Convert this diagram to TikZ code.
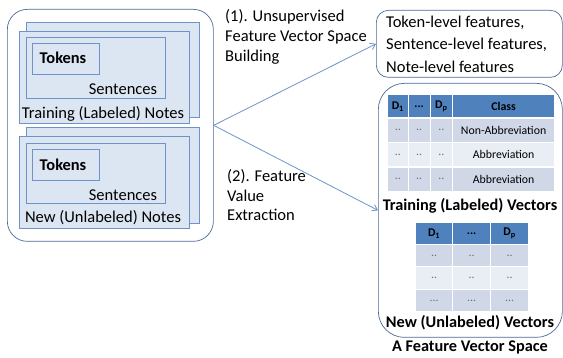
\documentclass[tikz,border=0pt]{standalone}
\usepackage{fontspec}
\setmainfont{Carlito}
\usetikzlibrary{arrows.meta}
\definecolor{paneblue}{HTML}{DCE6F2}
\definecolor{paneedge}{HTML}{6F93C8}
\definecolor{frameedge}{HTML}{4C6A96}
\definecolor{headblue}{HTML}{4F81BD}
\definecolor{rowdark}{HTML}{D0D8E8}
\definecolor{rowlight}{HTML}{E9EDF4}
\definecolor{arrowblue}{HTML}{6E94C8}
\definecolor{dotgray}{HTML}{707070}
\tikzset{
  frame/.style={draw=frameedge, line width=0.7pt, rounded corners=#1, inner sep=0pt, anchor=north west},
  pane/.style={draw=paneedge, fill=paneblue, line width=0.8pt, inner sep=0pt, anchor=north west},
  txt/.style={inner sep=0pt, font=\fontsize{16.5}{18}\selectfont},
  btxt/.style={inner sep=0pt, font=\fontsize{16.4}{18}\selectfont\bfseries},
  ttl/.style={inner sep=0pt, font=\fontsize{16.3}{18}\selectfont\bfseries},
  cell/.style={draw=white, line width=1.2pt, inner sep=0pt, anchor=north west,
    font=\fontsize{11.8}{13}\selectfont},
  head/.style={cell, fill=headblue, font=\fontsize{11.8}{13}\selectfont\bfseries},
  dark/.style={cell, fill=rowdark},
  light/.style={cell, fill=rowlight},
  flow/.style={draw=arrowblue, line width=0.8pt, -{Straight Barb[length=5pt,width=7pt]}},
}
\newcommand{\dd}{\textcolor{dotgray}{..}}
\newcommand{\ddd}{\textcolor{dotgray}{...}}
\begin{document}
\begin{tikzpicture}[x=1pt,y=-1pt]
\useasboundingbox (0,0) rectangle (563,358);

% ---- left container with the two note stacks ----
\node[frame=20pt, minimum width=206pt, minimum height=232pt] (notes) at (7,9) {};

% training notes stack
\node[pane, minimum width=173pt, minimum height=95pt] (trainback) at (26,22) {};
\node[pane, minimum width=170pt, minimum height=92pt] (trainfront) at (19,31) {};
\node[pane, minimum width=139pt, minimum height=61pt] (trainsent) at (26,37) {};
\node[pane, minimum width=67pt, minimum height=31pt] (traintok) at (32,43) {};
\node[btxt] (traintoklbl) at (63,58) {Tokens};
\node[txt] (trainsentlbl) at (123,89) {Sentences};
\node[txt] (trainlbl) at (103,114) {Training (Labeled) Notes};

% new notes stack
\node[pane, minimum width=173pt, minimum height=96pt] (newback) at (26,127) {};
\node[pane, minimum width=170pt, minimum height=92pt] (newfront) at (19,136) {};
\node[pane, minimum width=139pt, minimum height=60pt] (newsent) at (26,143) {};
\node[pane, minimum width=67pt, minimum height=31pt] (newtok) at (32,149) {};
\node[btxt] (newtoklbl) at (63,165) {Tokens};
\node[txt] (newsentlbl) at (123,195) {Sentences};
\node[txt] (newlbl) at (103,218) {New (Unlabeled) Notes};

% ---- feature list box ----
\node[frame=12pt, minimum width=186pt, minimum height=67pt] (feats) at (376,10) {};
\node[txt, anchor=west] (f1) at (386,23) {Token-level features,};
\node[txt, anchor=west] (f2) at (386,45) {Sentence-level features,};
\node[txt, anchor=west] (f3) at (386,67) {Note-level features};

% ---- feature vector space container ----
\node[frame=26pt, minimum width=184pt, minimum height=254pt] (space) at (378,83) {};

% training vectors table
\node[head, minimum width=20.5pt, minimum height=23.5pt] (th1) at (387,94) {D\textsubscript{1}};
\node[head, minimum width=22pt, minimum height=23.5pt] (th2) at (407.5,94) {...};
\node[head, minimum width=22.5pt, minimum height=23.5pt] (th3) at (429.5,94) {D\textsubscript{p}};
\node[head, minimum width=102pt, minimum height=23.5pt] (th4) at (452,94) {Class};

\node[dark, minimum width=20.5pt, minimum height=24.5pt] (ta1) at (387,117.5) {\dd};
\node[dark, minimum width=22pt, minimum height=24.5pt] (ta2) at (407.5,117.5) {\dd};
\node[dark, minimum width=22.5pt, minimum height=24.5pt] (ta3) at (429.5,117.5) {\dd};
\node[dark, minimum width=102pt, minimum height=24.5pt] (ta4) at (452,117.5) {Non-Abbreviation};

\node[light, minimum width=20.5pt, minimum height=24.5pt] (tb1) at (387,142) {\dd};
\node[light, minimum width=22pt, minimum height=24.5pt] (tb2) at (407.5,142) {\dd};
\node[light, minimum width=22.5pt, minimum height=24.5pt] (tb3) at (429.5,142) {\dd};
\node[light, minimum width=102pt, minimum height=24.5pt] (tb4) at (452,142) {Abbreviation};

\node[dark, minimum width=20.5pt, minimum height=24.5pt] (tc1) at (387,166.5) {\dd};
\node[dark, minimum width=22pt, minimum height=24.5pt] (tc2) at (407.5,166.5) {\dd};
\node[dark, minimum width=22.5pt, minimum height=24.5pt] (tc3) at (429.5,166.5) {\dd};
\node[dark, minimum width=102pt, minimum height=24.5pt] (tc4) at (452,166.5) {Abbreviation};

\node[ttl] (trainvec) at (470,206) {Training (Labeled) Vectors};

% new vectors table
\node[head, minimum width=37pt, minimum height=22pt] (nh1) at (415,222) {D\textsubscript{1}};
\node[head, minimum width=38pt, minimum height=22pt] (nh2) at (452,222) {...};
\node[head, minimum width=38pt, minimum height=22pt] (nh3) at (490,222) {D\textsubscript{p}};

\node[dark, minimum width=37pt, minimum height=22pt] (na1) at (415,244) {\dd};
\node[dark, minimum width=38pt, minimum height=22pt] (na2) at (452,244) {\dd};
\node[dark, minimum width=38pt, minimum height=22pt] (na3) at (490,244) {\dd};

\node[light, minimum width=37pt, minimum height=23pt] (nb1) at (415,266) {\dd};
\node[light, minimum width=38pt, minimum height=23pt] (nb2) at (452,266) {\dd};
\node[light, minimum width=38pt, minimum height=23pt] (nb3) at (490,266) {\dd};

\node[dark, minimum width=37pt, minimum height=22pt] (nc1) at (415,289) {\ddd};
\node[dark, minimum width=38pt, minimum height=22pt] (nc2) at (452,289) {\ddd};
\node[dark, minimum width=38pt, minimum height=22pt] (nc3) at (490,289) {\ddd};

\node[ttl] (newvec) at (470,323) {New (Unlabeled) Vectors};
\node[ttl] (spacelbl) at (470,347) {A Feature Vector Space};

% ---- connectors ----
\draw[flow] (notes.east) -- (feats.west);
\draw[flow] (notes.east) -- (space.west);

% step labels
\node[txt, anchor=west] (step1a) at (225,17) {(1). Unsupervised};
\node[txt, anchor=west] (step1b) at (225,37) {Feature Vector Space};
\node[txt, anchor=west] (step1c) at (225,57) {Building};
\node[txt, anchor=west] (step2a) at (227,177) {(2). Feature};
\node[txt, anchor=west] (step2b) at (227,196) {Value};
\node[txt, anchor=west] (step2c) at (227,215) {Extraction};
\end{tikzpicture}
\end{document}
